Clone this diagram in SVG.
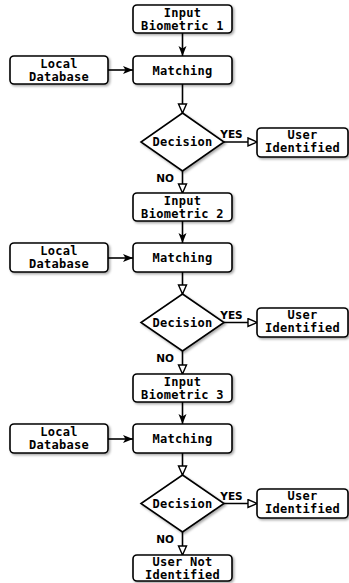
<svg xmlns="http://www.w3.org/2000/svg" width="349" height="583" viewBox="0 0 349 583">
<style>
.box{fill:#fff;stroke:#000;stroke-width:1.6;filter:url(#sh)}
.t{font-family:"DejaVu Sans Mono","Liberation Mono",monospace;font-weight:bold;font-size:12px;letter-spacing:0.3px;text-anchor:middle;fill:#000}
.lbl{font-family:"DejaVu Sans","Liberation Sans",sans-serif;font-weight:bold;font-size:10.5px;text-anchor:middle;fill:#000}
.c{stroke:#000;stroke-width:1.6;fill:none}
.f{marker-end:url(#af)}
.o{marker-end:url(#ao)}
</style>
<defs>
<filter id="sh" x="-10%" y="-10%" width="130%" height="140%">
<feDropShadow dx="1.5" dy="1.5" stdDeviation="0.8" flood-color="#000" flood-opacity="0.35"/>
</filter>
<marker id="af" markerUnits="userSpaceOnUse" markerWidth="12" markerHeight="10" refX="10" refY="4" orient="auto">
<path d="M0,0 L10,4 L0,8 L2.5,4 Z" fill="#000"/>
</marker>
<marker id="ao" markerUnits="userSpaceOnUse" markerWidth="12" markerHeight="12" refX="10" refY="5" orient="auto">
<path d="M1,1 L10,5 L1,9 Z" fill="#fff" stroke="#000" stroke-width="1.4"/>
</marker>
</defs>
<g id="connectors">
<path class="c f" d="M182.5,33 V56"/>
<path class="c f" d="M108,70 H133"/>
<path class="c o" d="M182.5,84 V113"/>
<path class="c o" d="M224,142 H257"/>
<path class="c o" d="M182.5,171 V193"/>
<path class="c f" d="M182.5,221 V243"/>
<path class="c f" d="M108,258 H133"/>
<path class="c o" d="M182.5,271 V294"/>
<path class="c o" d="M224,322.5 H257"/>
<path class="c o" d="M182.5,351 V374"/>
<path class="c f" d="M182.5,402 V424"/>
<path class="c f" d="M108,439 H133"/>
<path class="c o" d="M182.5,452 V475"/>
<path class="c o" d="M224,503.5 H257"/>
<path class="c o" d="M182.5,532 V555"/>
<text class="lbl" x="231.5" y="138">YES</text>
<text class="lbl" x="165" y="182">NO</text>
<text class="lbl" x="231.5" y="318.5">YES</text>
<text class="lbl" x="165" y="362">NO</text>
<text class="lbl" x="231.5" y="499.5">YES</text>
<text class="lbl" x="165" y="543">NO</text>
</g>
<g id="input1"><rect class="box" x="133" y="5" width="99" height="28" rx="4"/><text class="t" x="182.5" y="17">Input</text><text class="t" x="182.5" y="30">Biometric 1</text></g>
<g id="db1"><rect class="box" x="10" y="56" width="98" height="28" rx="4"/><text class="t" x="59" y="67.5">Local</text><text class="t" x="59" y="80.5">Database</text></g>
<g id="match1"><rect class="box" x="133" y="56" width="99" height="28" rx="4"/><text class="t" x="182.5" y="74.5">Matching</text></g>
<g id="dec1"><polygon class="box" points="182.5,113 224,142 182.5,171 141,142"/><text class="t" x="182.5" y="146">Decision</text></g>
<g id="user1"><rect class="box" x="257" y="128" width="91" height="29" rx="4"/><text class="t" x="302.5" y="139">User</text><text class="t" x="302.5" y="152">Identified</text></g>

<g id="input2"><rect class="box" x="133" y="193" width="99" height="28" rx="4"/><text class="t" x="182.5" y="205">Input</text><text class="t" x="182.5" y="218">Biometric 2</text></g>
<g id="db2"><rect class="box" x="10" y="243" width="98" height="29" rx="4"/><text class="t" x="59" y="255">Local</text><text class="t" x="59" y="268">Database</text></g>
<g id="match2"><rect class="box" x="133" y="243" width="99" height="29" rx="4"/><text class="t" x="182.5" y="262">Matching</text></g>
<g id="dec2"><polygon class="box" points="182.5,294 224,322.5 182.5,351 141,322.5"/><text class="t" x="182.5" y="326.5">Decision</text></g>
<g id="user2"><rect class="box" x="257" y="308" width="91" height="29" rx="4"/><text class="t" x="302.5" y="319">User</text><text class="t" x="302.5" y="332">Identified</text></g>

<g id="input3"><rect class="box" x="133" y="374" width="99" height="28" rx="4"/><text class="t" x="182.5" y="386">Input</text><text class="t" x="182.5" y="399">Biometric 3</text></g>
<g id="db3"><rect class="box" x="10" y="424" width="98" height="29" rx="4"/><text class="t" x="59" y="436">Local</text><text class="t" x="59" y="449">Database</text></g>
<g id="match3"><rect class="box" x="133" y="424" width="99" height="29" rx="4"/><text class="t" x="182.5" y="443">Matching</text></g>
<g id="dec3"><polygon class="box" points="182.5,475 224,503.5 182.5,532 141,503.5"/><text class="t" x="182.5" y="507.5">Decision</text></g>
<g id="user3"><rect class="box" x="257" y="489" width="91" height="29" rx="4"/><text class="t" x="302.5" y="500">User</text><text class="t" x="302.5" y="513">Identified</text></g>

<g id="notid"><rect class="box" x="133" y="555" width="99" height="26" rx="4"/><text class="t" x="182.5" y="566">User Not</text><text class="t" x="182.5" y="578.5">Identified</text></g>
</svg>
